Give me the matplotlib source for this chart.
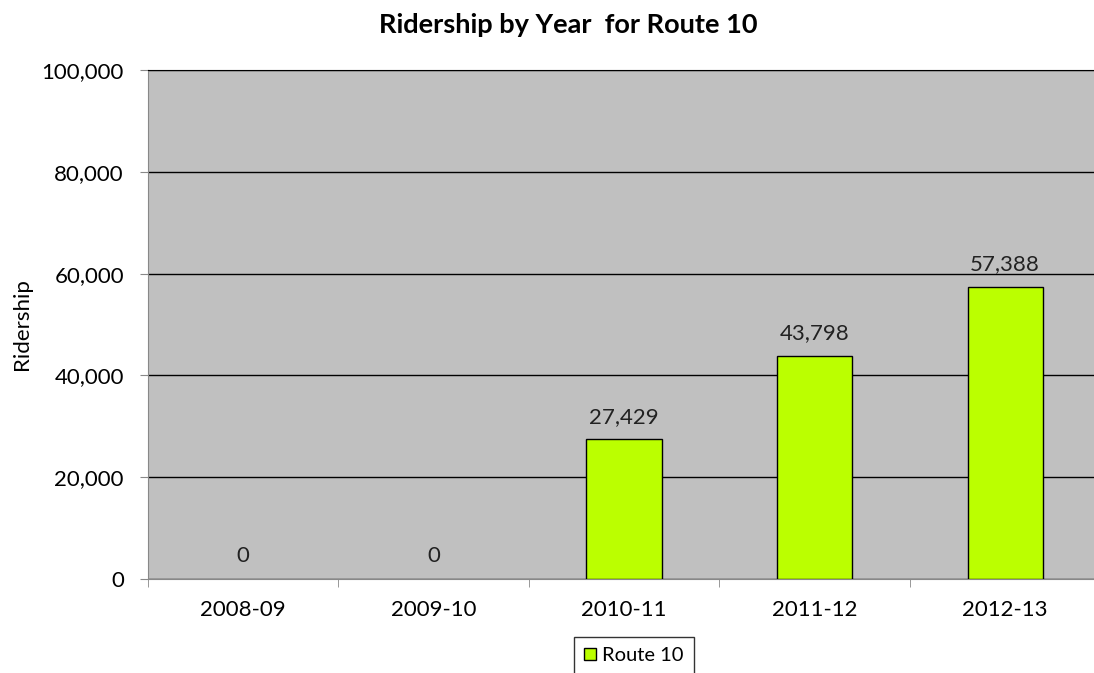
import matplotlib
matplotlib.use("Agg")
import matplotlib.pyplot as plt
from matplotlib.patches import Patch
from matplotlib.ticker import FuncFormatter

years = ["2008-09", "2009-10", "2010-11", "2011-12", "2012-13"]
ridership = [0, 0, 27429, 43798, 57388]
series_name = "Route 10"

plt.rcParams["font.family"] = ["Lato", "DejaVu Sans"]

fig = plt.figure(figsize=(10.94, 6.73), dpi=100)
# plot area runs a little past the right edge of the image, like the original
ax = fig.add_axes([147.5 / 1094, 1 - 579 / 673, 953 / 1094, 509 / 673])
ax.set_facecolor("#c0c0c0")

x = list(range(len(years)))
lw = [1.0 if v else 0 for v in ridership]
ax.bar(x, ridership, width=0.395, color="#bbff00", edgecolor="black", linewidth=lw, zorder=3)

for xi, v in zip(x, ridership):
    ax.annotate(f"{v:,}", (xi, v), xytext=(0, 9), textcoords="offset points",
                ha="center", va="bottom", fontsize=16, color="#222222")

ax.set_xlim(-0.5, len(years) - 0.5)
ax.set_ylim(0, 100000)
ax.set_yticks(range(0, 100001, 20000))
ax.yaxis.set_major_formatter(FuncFormatter(lambda v, p: f"{int(v):,}"))
ax.grid(axis="y", color="black", linewidth=1.0, zorder=1)

ax.set_xticks(x)
ax.set_xticklabels(years)
ax.set_xticks([i - 0.5 for i in range(len(years) + 1)], minor=True)
ax.tick_params(axis="x", which="major", length=0, pad=15, labelsize=16)
ax.tick_params(axis="x", which="minor", length=6, color="#888888")
ax.tick_params(axis="y", length=6, color="#888888", labelsize=16, pad=11)

ax.spines["right"].set_visible(False)
ax.spines["top"].set_color("black")
ax.spines["left"].set_color("#888888")
ax.spines["bottom"].set_color("#888888")

ax.set_ylabel("Ridership", fontsize=16)
ax.yaxis.set_label_coords(-116 / 953, 0.5)

fig.text(568 / 1094, 1 - 25 / 673, "Ridership by Year  for Route 10",
         ha="center", va="center", fontsize=19.5, fontweight="bold")

handle = Patch(facecolor="#bbff00", edgecolor="black", label=series_name)
leg = fig.legend(handles=[handle], loc="upper center", bbox_to_anchor=(634 / 1094, 1 - 637 / 673),
                 fontsize=14.5, frameon=True, fancybox=False, handlelength=0.6, handleheight=0.6,
                 handletextpad=0.3, borderpad=0.5, borderaxespad=0)
leg.get_frame().set_edgecolor("black")

fig.savefig("out.png", dpi=100)
plt.close()
